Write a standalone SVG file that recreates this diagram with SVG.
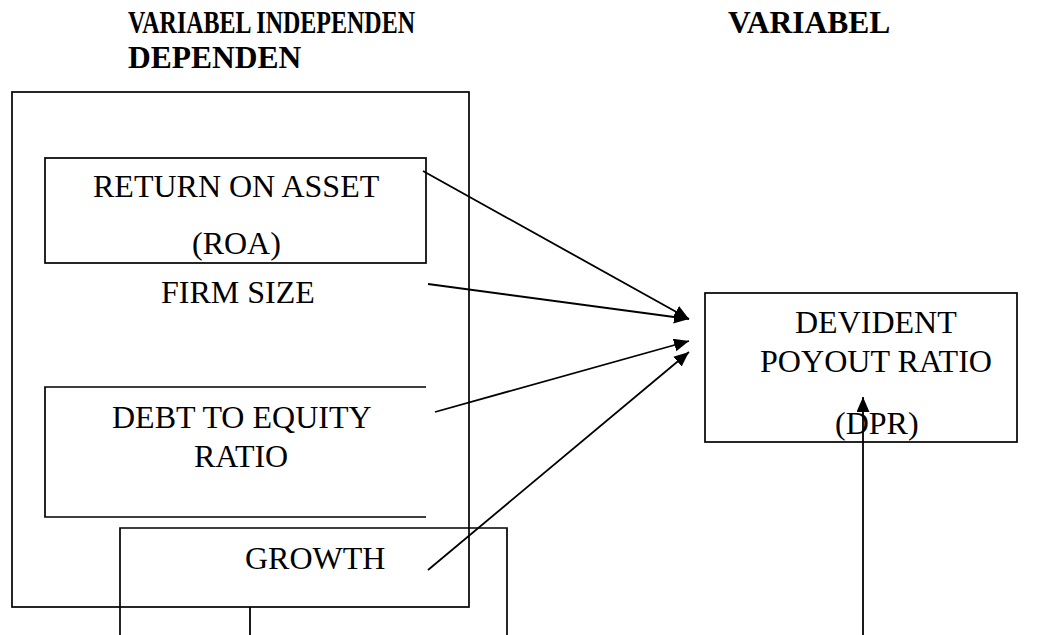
<svg xmlns="http://www.w3.org/2000/svg" width="1038" height="635" viewBox="0 0 1038 635">
<style>
.box{fill:none;stroke:#000;stroke-width:1.7}
.t{font-family:"Liberation Serif","Times New Roman",serif;font-size:32px;fill:#000}
.h{font-family:"Liberation Serif","Times New Roman",serif;font-size:31.5px;font-weight:bold;fill:#000}
.c{fill:none;stroke:#000;stroke-width:1.8}
</style>
<defs>
<marker id="ah" markerUnits="userSpaceOnUse" markerWidth="16" markerHeight="14" refX="15" refY="6.5" orient="auto">
<path d="M0,0 L15,6.5 L0,13 z" fill="#000"/>
</marker>
</defs>
<rect width="1038" height="635" fill="#fff"/>
<g id="headers">
<text class="h" x="128" y="33" textLength="287" lengthAdjust="spacingAndGlyphs">VARIABEL INDEPENDEN</text>
<text class="h" x="128" y="68">DEPENDEN</text>
<text class="h" x="728" y="33">VARIABEL</text>
</g>
<g id="independent-group">
<rect class="box" x="12" y="92" width="457" height="515"/>
</g>
<g id="roa">
<rect class="box" x="45" y="158" width="381" height="105"/>
<text class="t" x="93" y="197">RETURN ON ASSET</text>
<text class="t" x="192" y="254">(ROA)</text>
</g>
<g id="firm-size">
<text class="t" x="161" y="303">FIRM SIZE</text>
</g>
<g id="der">
<path class="box" d="M426,387 H45 V517 H426"/>
<text class="t" x="112" y="428">DEBT TO EQUITY</text>
<text class="t" x="194" y="467">RATIO</text>
</g>
<g id="growth">
<path class="box" d="M120,635 V528 H507 V635"/>
<text class="t" x="245" y="569">GROWTH</text>
</g>
<g id="dpr">
<rect class="box" x="705" y="293" width="312" height="149"/>
<text class="t" x="795" y="333">DEVIDENT</text>
<text class="t" x="760" y="372" textLength="232" lengthAdjust="spacingAndGlyphs">POYOUT RATIO</text>
<text class="t" x="835" y="434">(DPR)</text>
</g>
<g id="connectors">
<line class="c" x1="423" y1="171" x2="689" y2="319" marker-end="url(#ah)"/>
<line class="c" x1="428" y1="284" x2="689" y2="319" marker-end="url(#ah)"/>
<line class="c" x1="435" y1="412" x2="689" y2="341" marker-end="url(#ah)"/>
<line class="c" x1="428" y1="570" x2="689" y2="352" marker-end="url(#ah)"/>
<line class="c" x1="863" y1="635" x2="863" y2="397" marker-end="url(#ah)"/>
<line class="c" x1="250" y1="607" x2="250" y2="635"/>
</g>
</svg>
